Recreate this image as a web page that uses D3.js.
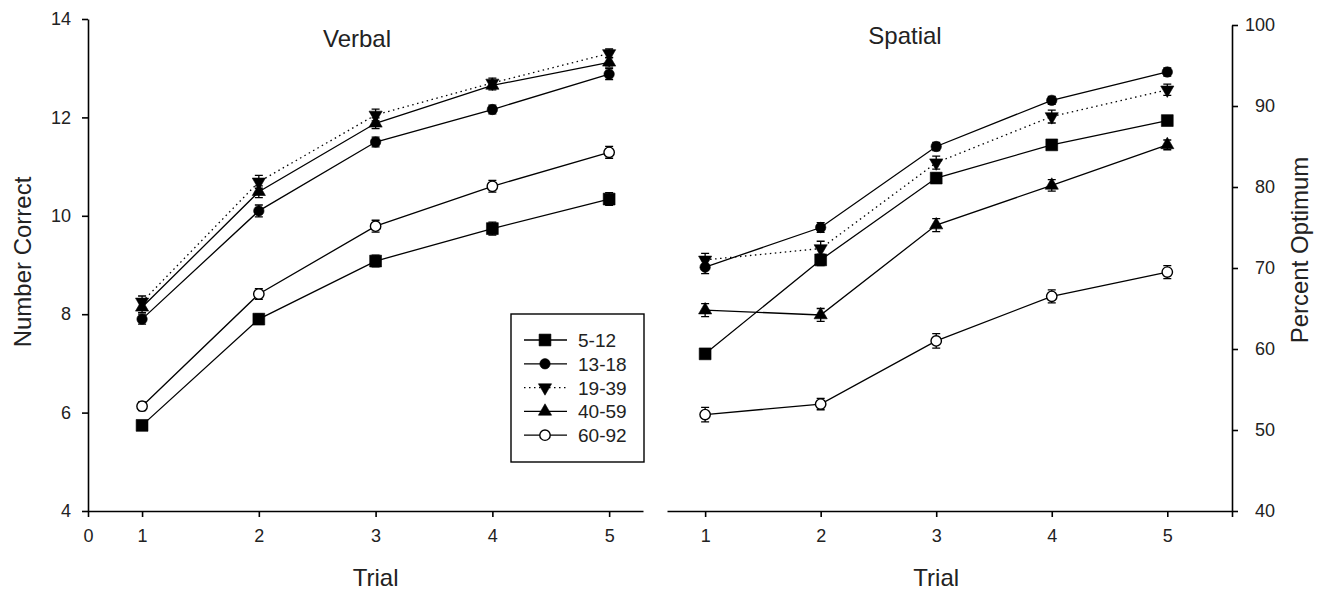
<!DOCTYPE html>
<html>
<head>
<meta charset="utf-8">
<script src="https://cdn.jsdelivr.net/npm/d3@7"></script>
<style>
  body { margin: 0; background: #fff; }
  svg { display: block; font-family: "Liberation Sans", Arial, sans-serif; }
</style>
</head>
<body>
<svg id="chart" width="1319" height="590"></svg>
<script>
// trials and age groups
var trials = [1, 2, 3, 4, 5];
var groups = ["5-12", "13-18", "19-39", "40-59", "60-92"];

// Verbal panel: number correct
var verbal_5_12  = [5.74, 7.90, 9.08, 9.74, 10.34];
var verbal_13_18 = [7.90, 10.10, 11.50, 12.16, 12.88];
var verbal_19_39 = [8.25, 10.69, 12.05, 12.70, 13.30];
var verbal_40_59 = [8.14, 10.49, 11.88, 12.65, 13.12];
var verbal_60_92 = [6.13, 8.41, 9.79, 10.60, 11.29];

// error bars (+/-) for verbal
var verbalErr_5_12  = [0.08, 0.10, 0.12, 0.13, 0.13];
var verbalErr_13_18 = [0.10, 0.12, 0.10, 0.09, 0.11];
var verbalErr_19_39 = [0.12, 0.13, 0.12, 0.10, 0.09];
var verbalErr_40_59 = [0.11, 0.12, 0.11, 0.09, 0.10];
var verbalErr_60_92 = [0.09, 0.11, 0.12, 0.12, 0.12];

// Spatial panel: percent optimum
var spatial_5_12  = [59.4, 71.0, 81.1, 85.2, 88.2];
var spatial_13_18 = [70.1, 75.0, 85.0, 90.7, 94.2];
var spatial_19_39 = [71.0, 72.4, 83.0, 88.7, 92.0];
var spatial_40_59 = [64.8, 64.2, 75.3, 80.2, 85.2];
var spatial_60_92 = [51.9, 53.2, 61.0, 66.5, 69.5];

var spatialErr_5_12  = [0.5, 0.7, 0.6, 0.5, 0.5];
var spatialErr_13_18 = [0.8, 0.6, 0.5, 0.5, 0.5];
var spatialErr_19_39 = [0.8, 0.9, 0.8, 0.8, 0.7];
var spatialErr_40_59 = [0.8, 0.8, 0.8, 0.7, 0.6];
var spatialErr_60_92 = [0.9, 0.7, 0.9, 0.8, 0.8];

// tick values
var verbalTicks = [4, 6, 8, 10, 12, 14];
var spatialTicks = [40, 50, 60, 70, 80, 90, 100];

// marker style per group
var markers = [
  {shape: d3.symbolSquare,   size: 140, rot: 0,   fill: "#000", dash: null},
  {shape: d3.symbolCircle,   size: 85,  rot: 0,   fill: "#000", dash: null},
  {shape: d3.symbolTriangle, size: 75,  rot: 180, fill: "#000", dash: "1.5,3.5"},
  {shape: d3.symbolTriangle, size: 75,  rot: 0,   fill: "#000", dash: null},
  {shape: d3.symbolCircle,   size: 85,  rot: 0,   fill: "#fff", dash: null}
];

var verbalSeries = [verbal_5_12, verbal_13_18, verbal_19_39, verbal_40_59, verbal_60_92];
var verbalErrs = [verbalErr_5_12, verbalErr_13_18, verbalErr_19_39, verbalErr_40_59, verbalErr_60_92];
var spatialSeries = [spatial_5_12, spatial_13_18, spatial_19_39, spatial_40_59, spatial_60_92];
var spatialErrs = [spatialErr_5_12, spatialErr_13_18, spatialErr_19_39, spatialErr_40_59, spatialErr_60_92];

var svg = d3.select("#chart");
svg.append("rect").attr("width", 1319).attr("height", 590).attr("fill", "#fff");

// scales
var xLeftStart = 0.537;
var xLeft = d3.scaleLinear().domain([xLeftStart, 5.29]).range([88, 643]);
var yLeft = d3.scaleLinear().domain([4, 14]).range([511, 19]);
var xRightEnd = 5.56;
var xRight = d3.scaleLinear().domain([0.67, xRightEnd]).range([667, 1232]);
var yRight = d3.scaleLinear().domain([40, 100]).range([511, 25]);

function styleAxis(g) {
  g.select(".domain").attr("stroke", "#000").attr("stroke-width", 1.6);
  g.selectAll(".tick line").attr("stroke", "#000").attr("stroke-width", 1.6);
  g.selectAll(".tick text").attr("font-size", 18).attr("fill", "#222")
    .attr("font-family", "Liberation Sans, Arial, sans-serif");
}

// left panel axes
svg.append("g").attr("transform", "translate(0,511)")
  .call(d3.axisBottom(xLeft)
    .tickValues([xLeftStart].concat(trials))
    .tickFormat(function(d, i) { return i === 0 ? "0" : d; })
    .tickSizeInner(6).tickSizeOuter(0).tickPadding(12))
  .call(styleAxis);

svg.append("g").attr("transform", "translate(88,0)")
  .call(d3.axisLeft(yLeft).tickValues(verbalTicks)
    .tickSizeInner(6).tickSizeOuter(0).tickPadding(11))
  .call(styleAxis);

// right panel axes
svg.append("g").attr("transform", "translate(0,511)")
  .call(d3.axisBottom(xRight)
    .tickValues(trials.concat([xRightEnd]))
    .tickFormat(function(d) { return d === xRightEnd ? "" : d; })
    .tickSizeInner(6).tickSizeOuter(0).tickPadding(12))
  .call(styleAxis);

var yRightAxis = svg.append("g").attr("transform", "translate(1232,0)")
  .call(d3.axisRight(yRight).tickValues(spatialTicks)
    .tickSizeInner(6).tickSizeOuter(0))
  .call(styleAxis);
yRightAxis.selectAll(".tick text").attr("text-anchor", "end").attr("x", 43);

// draw one panel's series
function drawPanel(seriesList, errList, x, y) {
  var g = svg.append("g");
  var line = d3.line()
    .x(function(d, i) { return x(trials[i]); })
    .y(function(d) { return y(d); });

  seriesList.forEach(function(vals, s) {
    var m = markers[s];
    g.append("path")
      .attr("d", line(vals))
      .attr("fill", "none")
      .attr("stroke", "#000")
      .attr("stroke-width", 1.3)
      .attr("stroke-dasharray", m.dash);
  });

  seriesList.forEach(function(vals, s) {
    var m = markers[s];
    var errs = errList[s];
    var pts = g.selectAll(null).data(vals).enter().append("g")
      .attr("transform", function(d, i) { return "translate(" + x(trials[i]) + "," + y(d) + ")"; });

    // error bars
    pts.append("path")
      .attr("d", function(d, i) {
        var up = y(d + errs[i]) - y(d), dn = y(d - errs[i]) - y(d);
        return "M-4," + up + "H4M0," + up + "V" + dn + "M-4," + dn + "H4";
      })
      .attr("stroke", "#000").attr("stroke-width", 1.3).attr("fill", "none");

    pts.append("path")
      .attr("d", d3.symbol().type(m.shape).size(m.size))
      .attr("transform", "rotate(" + m.rot + ")")
      .attr("fill", m.fill)
      .attr("stroke", "#000")
      .attr("stroke-width", m.fill === "#fff" ? 1.4 : 0.6);
  });
}

drawPanel(verbalSeries, verbalErrs, xLeft, yLeft);
drawPanel(spatialSeries, spatialErrs, xRight, yRight);

// titles and axis labels
var font = "Liberation Sans, Arial, sans-serif";
svg.append("text").attr("x", 357).attr("y", 47).attr("text-anchor", "middle")
  .attr("font-size", 24).attr("font-family", font).attr("fill", "#222").text("Verbal");
svg.append("text").attr("x", 905).attr("y", 44).attr("text-anchor", "middle")
  .attr("font-size", 24).attr("font-family", font).attr("fill", "#222").text("Spatial");

svg.append("text").attr("x", xLeft(3)).attr("y", 586).attr("text-anchor", "middle")
  .attr("font-size", 24).attr("font-family", font).attr("fill", "#222").text("Trial");
svg.append("text").attr("x", xRight(3)).attr("y", 586).attr("text-anchor", "middle")
  .attr("font-size", 24).attr("font-family", font).attr("fill", "#222").text("Trial");

svg.append("text").attr("transform", "translate(31,262) rotate(-90)").attr("text-anchor", "middle")
  .attr("font-size", 24).attr("font-family", font).attr("fill", "#222").text("Number Correct");
svg.append("text").attr("transform", "translate(1308,250) rotate(-90)").attr("text-anchor", "middle")
  .attr("font-size", 24).attr("font-family", font).attr("fill", "#222").text("Percent Optimum");

// legend
var legend = svg.append("g");
legend.append("rect")
  .attr("x", 511).attr("y", 314).attr("width", 133).attr("height", 148)
  .attr("fill", "#fff").attr("stroke", "#000").attr("stroke-width", 1.4);

groups.forEach(function(name, s) {
  var m = markers[s];
  var cy = 340 + s * 23.8;
  legend.append("line")
    .attr("x1", 524).attr("x2", 567).attr("y1", cy).attr("y2", cy)
    .attr("stroke", "#000").attr("stroke-width", 1.3)
    .attr("stroke-dasharray", m.dash);
  legend.append("path")
    .attr("d", d3.symbol().type(m.shape).size(m.size))
    .attr("transform", "translate(545," + cy + ") rotate(" + m.rot + ")")
    .attr("fill", m.fill).attr("stroke", "#000")
    .attr("stroke-width", m.fill === "#fff" ? 1.4 : 0.6);
  legend.append("text")
    .attr("x", 578).attr("y", cy + 7)
    .attr("font-size", 19).attr("font-family", font).attr("fill", "#222")
    .text(name);
});
</script>
</body>
</html>
